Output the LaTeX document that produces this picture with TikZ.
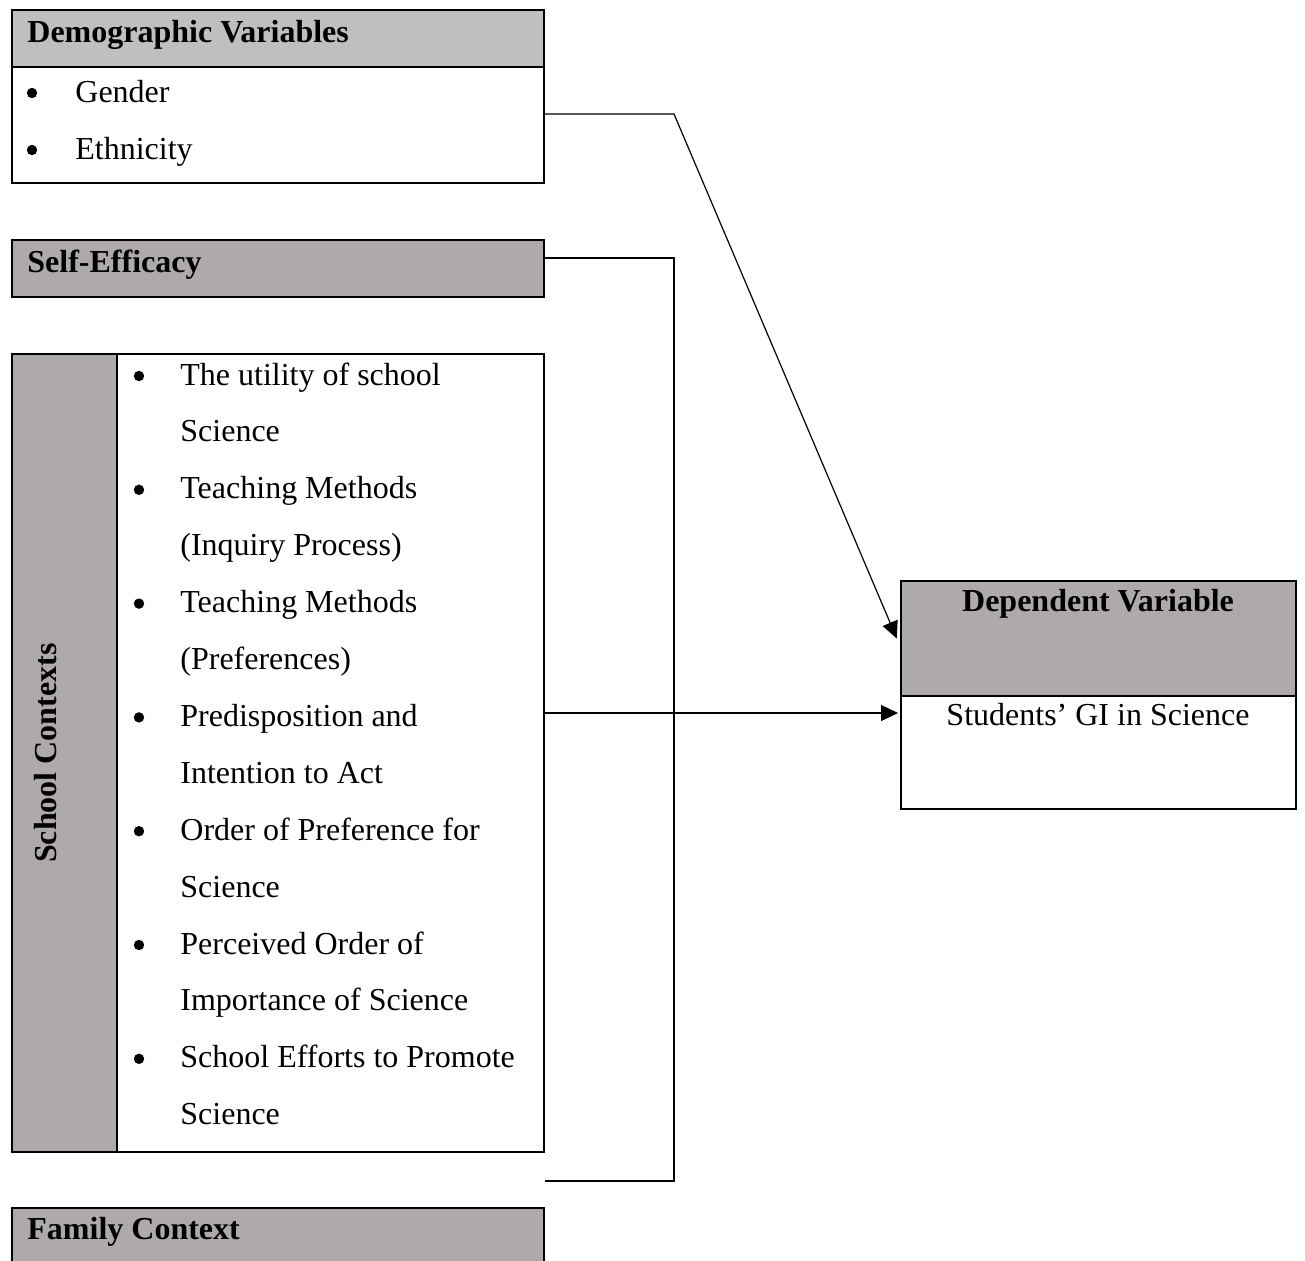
\documentclass[tikz,border=0pt]{standalone}
\usepackage{fontspec}
\setmainfont{Liberation Serif}
\usetikzlibrary{arrows.meta}
\definecolor{hdr}{HTML}{AEAAAA}
\definecolor{hdrlight}{HTML}{BFBFBF}
\begin{document}
\begin{tikzpicture}[x=0.5pt,y=-0.5pt,
  box/.style={draw, line width=1.2pt, inner sep=0pt, rectangle},
  txt/.style={inner sep=0pt, anchor=base west, font=\fontsize{16pt}{19pt}\selectfont},
  btxt/.style={txt, font=\fontsize{16pt}{19pt}\selectfont\bfseries},
  conn/.style={draw, line width=0.6pt},
  arr/.style={conn, -{Triangle[length=8.5pt,width=8pt]}}
]
\useasboundingbox (0,0) rectangle (1305,1260);
\clip (0,0) rectangle (1305,1260);

% Demographic Variables
\node[box, fill=hdrlight, minimum width=266pt, minimum height=28.5pt] (demohead) at (278,38.5) {};
\node[box, fill=white, minimum width=266pt, minimum height=58pt] (demobody) at (278,125) {};
\node[btxt] (demotitle) at (27,42) {Demographic Variables};
\fill (32,93) circle (2.6pt);
\node[txt] (gender) at (75,102) {Gender};
\fill (32,150) circle (2.6pt);
\node[txt] (ethnic) at (75,159) {Ethnicity};

% Self-Efficacy
\node[box, fill=hdr, minimum width=266pt, minimum height=28.5pt] (self) at (278,268.5) {};
\node[btxt] (selftitle) at (27,272) {Self-Efficacy};

% School Contexts
\node[box, fill=hdr, minimum width=52.5pt, minimum height=399pt] (schoolside) at (64.5,753) {};
\node[box, fill=white, minimum width=213.5pt, minimum height=399pt] (schoollist) at (330.5,753) {};
\node[inner sep=0pt, rotate=90, font=\fontsize{16pt}{19pt}\selectfont\bfseries] (schooltitle) at (46,753) {School Contexts};
\foreach \k/\t in {0/The utility of school, 1/Science, 2/Teaching Methods, 3/(Inquiry Process),
  4/Teaching Methods, 5/(Preferences), 6/Predisposition and, 7/Intention to Act,
  8/Order of Preference for, 9/Science, 10/Perceived Order of, 11/Importance of Science,
  12/School Efforts to Promote, 13/Science}{
  \node[txt] (item\k) at (180,385+\k*56.9) {\t};
}
\foreach \k in {0,2,4,6,8,10,12}{
  \fill (139,385+\k*56.9-9) circle (2.6pt);
}

% Family Context
\node[box, fill=hdr, minimum width=266pt, minimum height=31pt] (family) at (278,1239) {};
\node[btxt] (familytitle) at (27,1239) {Family Context};

% Dependent Variable
\node[box, fill=hdr, minimum width=197.5pt, minimum height=57.5pt] (dephead) at (1098.5,638.5) {};
\node[box, fill=white, minimum width=197.5pt, minimum height=56.5pt] (depbody) at (1098.5,752.5) {};
\node[btxt, anchor=base] (deptitle) at (1098,611) {Dependent Variable};
\node[txt, anchor=base] (students) at (1098,725) {Students’ GI in Science};

% Connectors
\coordinate (c1) at (674,114);
\coordinate (b1) at (674,258);
\coordinate (b2) at (674,1181);
\coordinate (a2) at (898,713);
\draw[arr] (demobody.east |- c1) -- (c1) -- ([xshift=-1.5pt]dephead.west);
\draw[conn] (self.east |- b1) -- (b1) -- (b2) -- (schoollist.east |- b2);
\draw[arr] (schoollist.east |- a2) -- (a2);
\end{tikzpicture}
\end{document}
